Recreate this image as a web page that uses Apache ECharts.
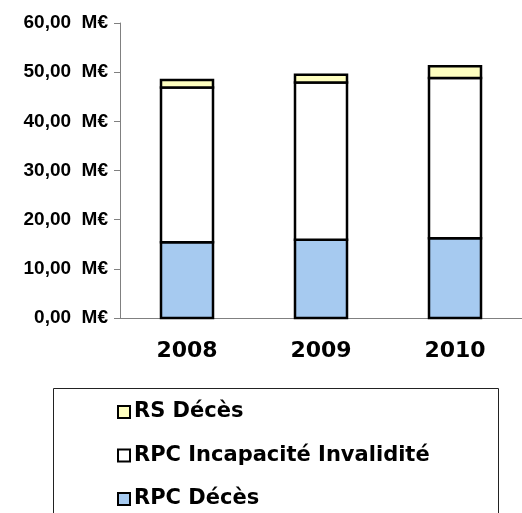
<!DOCTYPE html>
<html>
<head>
<meta charset="utf-8">
<script src="https://cdn.jsdelivr.net/npm/echarts@6/dist/echarts.min.js"></script>
<style>
  html, body { margin: 0; padding: 0; background: #fff; }
  #chart { width: 522px; height: 513px; }
</style>
</head>
<body>
<div id="chart"></div>
<script>
// data (M€)
const years = ['2008', '2009', '2010']
const rpcDeces = [15.4, 15.9, 16.2]
const rpcIncapacite = [31.5, 32.0, 32.6]
const rsDeces = [1.5, 1.6, 2.4]
const yTicks = [0, 10, 20, 30, 40, 50, 60]

const chart = echarts.init(document.getElementById('chart'))

// stacked segments: [categoryIndex, bottom, top]
function segments(values, below) {
  return values.map((v, i) => {
    let base = 0
    below.forEach(arr => { base += arr[i] })
    return [i, base, base + v]
  })
}

// bar with a centred border, like excel (echarts insets bar borders)
function renderSegment(params, api) {
  let lo = api.coord([api.value(0), api.value(1)])
  let hi = api.coord([api.value(0), api.value(2)])
  let w = 52
  return {
    type: 'rect',
    shape: { x: lo[0] - w / 2, y: hi[1], width: w, height: lo[1] - hi[1] },
    style: { fill: api.visual('color'), stroke: '#000', lineWidth: 2.5 },
  }
}

const colors = {
  'RPC Décès': '#a6caf0',
  'RPC Incapacité Invalidité': '#ffffff',
  'RS Décès': '#ffffc0',
}
const legendItem = (name) => ({
  name: name,
  itemStyle: { color: colors[name], borderColor: '#000', borderWidth: 2 },
})

chart.setOption({
  animation: false,
  backgroundColor: '#fff',
  grid: {
    left: 120,
    right: -3,
    top: 23,
    bottom: 195,
  },
  xAxis: {
    type: 'category',
    data: years,
    axisLine: { lineStyle: { color: '#808080', width: 1 } },
    axisTick: { length: 7, lineStyle: { color: '#808080' } },
    axisLabel: {
      margin: 22,
      color: '#000',
      fontFamily: 'DejaVu Sans',
      fontWeight: 'bold',
      fontSize: 22,
    },
  },
  yAxis: {
    type: 'value',
    min: yTicks[0],
    max: yTicks[yTicks.length - 1],
    interval: 10,
    splitLine: { show: false },
    axisLine: { show: true, lineStyle: { color: '#808080', width: 1 } },
    axisTick: { show: true, length: 6, lineStyle: { color: '#808080' } },
    axisLabel: {
      margin: 12,
      color: '#000',
      fontFamily: 'Liberation Sans',
      fontWeight: 'bold',
      fontSize: 19,
      formatter: (v) => v.toFixed(2).replace('.', ',') + '  M€',
    },
  },
  legend: {
    orient: 'vertical',
    left: 117,
    top: 400,
    padding: 0,
    itemWidth: 12,
    itemHeight: 12,
    itemGap: 19.5,
    icon: 'rect',
    data: ['RS Décès', 'RPC Incapacité Invalidité', 'RPC Décès'].map(legendItem),
    textStyle: {
      color: '#000',
      fontFamily: 'DejaVu Sans',
      fontWeight: 'bold',
      fontSize: 21,
      lineHeight: 24,
      padding: [0, 0, 0, -1],
    },
  },
  graphic: [
    {
      type: 'rect',
      silent: true,
      shape: { x: 53.5, y: 388.5, width: 445, height: 200 },
      style: { fill: 'none', stroke: '#222', lineWidth: 1 },
    },
  ],
  series: [
    {
      name: 'RPC Décès',
      type: 'custom',
      renderItem: renderSegment,
      encode: { x: 0, y: [1, 2] },
      data: segments(rpcDeces, []),
      itemStyle: { color: colors['RPC Décès'] },
    },
    {
      name: 'RPC Incapacité Invalidité',
      type: 'custom',
      renderItem: renderSegment,
      encode: { x: 0, y: [1, 2] },
      data: segments(rpcIncapacite, [rpcDeces]),
      itemStyle: { color: colors['RPC Incapacité Invalidité'] },
    },
    {
      name: 'RS Décès',
      type: 'custom',
      renderItem: renderSegment,
      encode: { x: 0, y: [1, 2] },
      data: segments(rsDeces, [rpcDeces, rpcIncapacite]),
      itemStyle: { color: colors['RS Décès'] },
    },
  ],
})
</script>
</body>
</html>
